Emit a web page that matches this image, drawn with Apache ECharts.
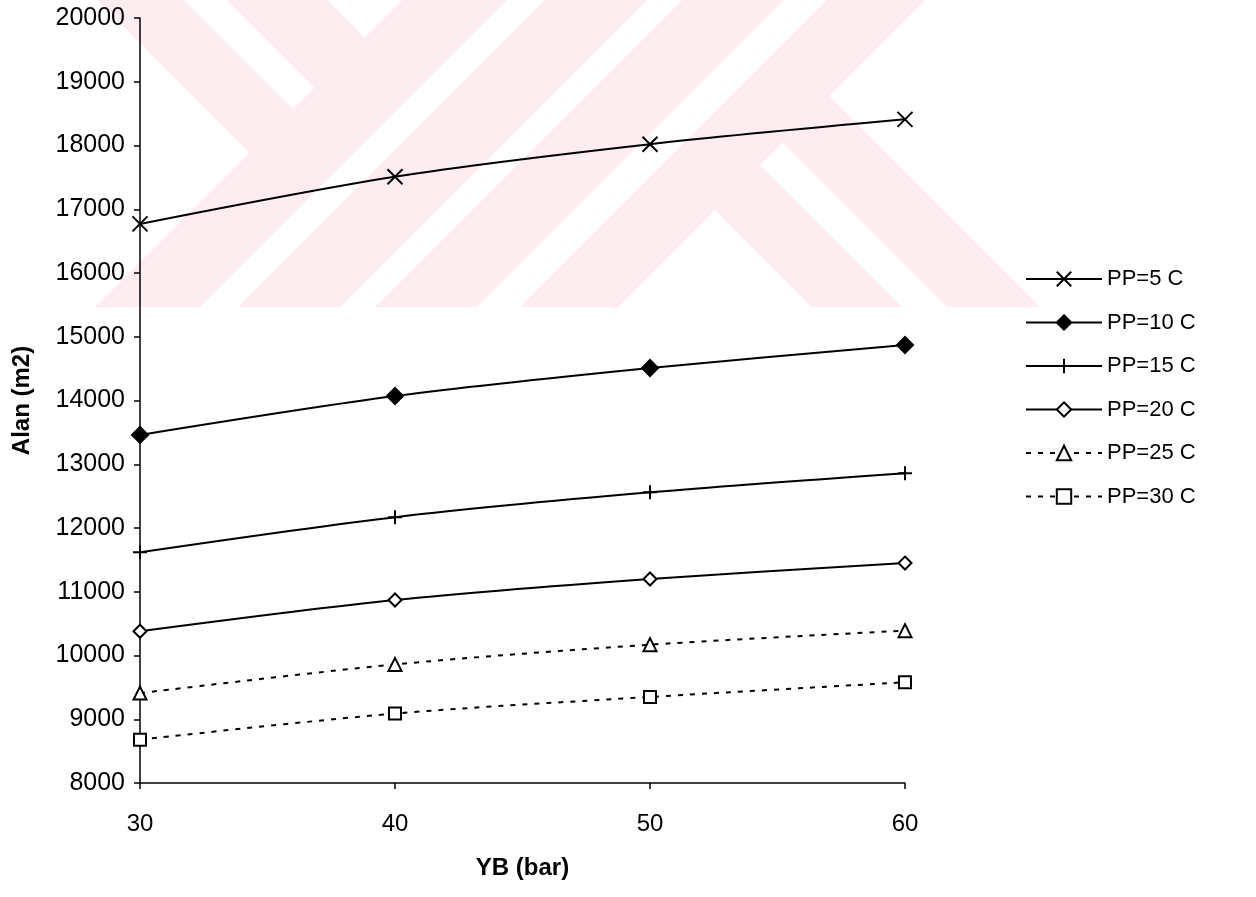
<!DOCTYPE html>
<html>
<head>
<meta charset="utf-8">
<script src="https://cdn.jsdelivr.net/npm/echarts@6/dist/echarts.min.js"></script>
<style>html,body{margin:0;padding:0;background:#fff}#c{width:1256px;height:897px}</style>
</head>
<body>
<div id="c"></div>
<script>
// ---- data ----
const xValues = [30, 40, 50, 60];
const seriesNames = ['PP=5 C', 'PP=10 C', 'PP=15 C', 'PP=20 C', 'PP=25 C', 'PP=30 C'];
const pp5  = [16770, 17510, 18020, 18410];
const pp10 = [13460, 14070, 14510, 14870];
const pp15 = [11620, 12170, 12560, 12860];
const pp20 = [10380, 10870, 11200, 11450];
const pp25 = [9410, 9860, 10170, 10390];
const pp30 = [8680, 9090, 9350, 9580];
const yTicks = {min: 8000, max: 20000, step: 1000};
const xTicks = {min: 30, max: 60, step: 10};

// ---- background watermark (decoration) ----
const wmColor = '#fdecf0';
const wmPolys = [
  [[97,0],[184,0],[293,109],[249.5,152.5]],
  [[227,0],[327,0],[364.5,37.5],[314.5,87.5]],
  [[402,0],[507,0],[200,307],[95,307]],
  [[545,0],[647,0],[340,307],[238,307]],
  [[682,0],[784,0],[477,307],[375,307]],
  [[827,0],[925,0],[618,307],[520,307]],
  [[715,210],[760,165],[902,307],[812,307]],
  [[782.5,142.5],[829,96],[1040,307],[947,307]]
];

const chart = echarts.init(document.getElementById('c'), null, {renderer: 'canvas'});
const font = 'Liberation Sans, Arial, sans-serif';
const black = '#000';

function mk(name, data, symbol, size, opts) {
  opts = opts || {};
  return {
    name: name,
    type: 'line',
    data: xValues.map((x, i) => [x, data[i]]),
    smooth: 0.3,
    symbol: symbol,
    symbolSize: size,
    lineStyle: {color: black, width: 2, type: opts.dash ? [5, 7] : 'solid'},
    itemStyle: {color: opts.fill || black, borderColor: black, borderWidth: opts.bw || 2},
    emphasis: {disabled: true},
    z: 3
  };
}

const option = {
  animation: false,
  backgroundColor: '#fff',
  textStyle: {fontFamily: font, color: black},
  graphic: wmPolys.map(p => ({
    type: 'polygon', shape: {points: p}, style: {fill: wmColor}, z: -10, silent: true
  })),
  grid: {left: 140, right: 351, top: 18, bottom: 114, containLabel: false},
  legend: {
    orient: 'vertical',
    left: 1025,
    top: 268,
    padding: 0,
    itemWidth: 76,
    itemHeight: 18,
    itemGap: 21.5,
    textStyle: {fontFamily: font, fontSize: 22, color: black, lineHeight: 22},
    data: seriesNames
  },
  xAxis: {
    type: 'value',
    min: xTicks.min, max: xTicks.max, interval: xTicks.step,
    name: 'YB (bar)',
    nameLocation: 'middle',
    nameGap: 73,
    nameTextStyle: {fontFamily: font, fontSize: 24, fontWeight: 'bold', color: black},
    axisLine: {show: true, onZero: false, lineStyle: {color: black, width: 1.5}},
    axisTick: {show: true, inside: false, length: 6, lineStyle: {color: black, width: 1.5}},
    axisLabel: {fontFamily: font, fontSize: 24, color: black, margin: 29},
    splitLine: {show: false}
  },
  yAxis: {
    type: 'value',
    min: yTicks.min, max: yTicks.max, interval: yTicks.step,
    name: 'Alan (m2)',
    nameLocation: 'middle',
    nameGap: 106,
    nameRotate: 90,
    nameTextStyle: {fontFamily: font, fontSize: 24, fontWeight: 'bold', color: black},
    axisLine: {show: true, lineStyle: {color: black, width: 1.5}},
    axisTick: {show: true, inside: false, length: 6, lineStyle: {color: black, width: 1.5}},
    axisLabel: {fontFamily: font, fontSize: 25, color: black, margin: 15, formatter: v => String(v)},
    splitLine: {show: false}
  },
  series: [
    mk(seriesNames[0], pp5, 'path://M0,0L10,10M10,0L0,10', 15, {fill: 'none', bw: 2}),
    mk(seriesNames[1], pp10, 'diamond', 16, {}),
    mk(seriesNames[2], pp15, 'path://M5,0L5,10M0,5L10,5', 14, {fill: 'none', bw: 2}),
    mk(seriesNames[3], pp20, 'diamond', 13, {fill: '#fff'}),
    mk(seriesNames[4], pp25, 'triangle', 13, {fill: '#fff', dash: true}),
    mk(seriesNames[5], pp30, 'rect', 12, {fill: '#fff', dash: true})
  ]
};
chart.setOption(option);
</script>
</body>
</html>
